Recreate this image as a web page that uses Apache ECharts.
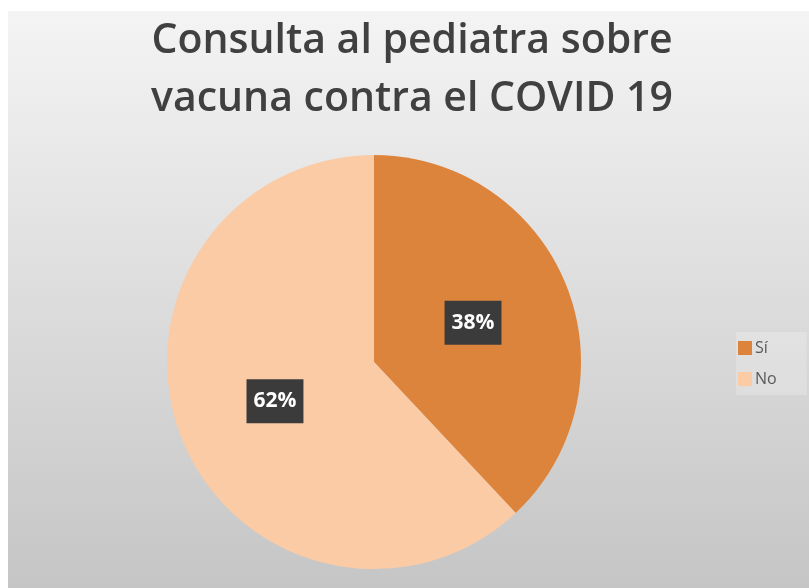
<!DOCTYPE html>
<html>
<head>
<meta charset="utf-8">
<script src="https://cdn.jsdelivr.net/npm/echarts@6/dist/echarts.min.js"></script>
<style>
  html, body { margin: 0; padding: 0; background: #ffffff; }
  #chart { position: absolute; left: 8px; top: 11px; width: 801px; height: 577px; }
</style>
</head>
<body>
<div id="chart"></div>
<script>
(function() {

	var titleText = 'Consulta al pediatra sobre\nvacuna contra el COVID 19';
	var categories = ['Sí', 'No'];
	var values = [38, 62]; // porcentajes
	var colors = ['#DD843C', '#FBCBA6'];

	var chart = echarts.init(document.getElementById('chart'));

	var pieData = [];
	for (var i = 0; i < categories.length; i++) {
		pieData.push({ name: categories[i], value: values[i], itemStyle: { color: colors[i] } });
	}

	chart.setOption({
		backgroundColor: {
			type: 'linear', x: 0, y: 0, x2: 0, y2: 1,
			colorStops: [
				{ offset: 0, color: '#f4f4f4' },
				{ offset: 1, color: '#c5c5c5' }
			]
		},
		title: {
			text: titleText,
			left: 404,
			textAlign: 'center',
			top: 1,
			padding: 0,
			textStyle: {
				fontFamily: 'Open Sans',
				fontSize: 41,
				fontWeight: 600,
				color: '#404040',
				lineHeight: 58
			}
		},
		legend: {
			orient: 'vertical',
			left: 728,
			top: 321,
			padding: [8, 30, 8, 2],
			backgroundColor: 'rgba(255,255,255,0.22)',
			itemWidth: 14,
			itemHeight: 14,
			itemGap: 15,
			icon: 'rect',
			data: categories,
			textStyle: {
				fontFamily: 'Open Sans',
				fontSize: 16,
				color: '#595959',
				padding: [0, 0, 0, -2]
			}
		},
		series: [{
			type: 'pie',
			center: [366, 351],
			radius: 207,
			startAngle: 90,
			clockwise: true,
			animation: false,
			label: {
				show: true,
				position: 'inside',
				formatter: '{d}%',
				fontFamily: 'Open Sans',
				fontSize: 21,
				fontWeight: 'bold',
				color: '#ffffff',
				backgroundColor: '#3b3b3b',
				padding: [12, 7, 11, 7]
			},
			labelLine: { show: false },
			data: pieData
		}]
	});
})();
</script>
</body>
</html>
